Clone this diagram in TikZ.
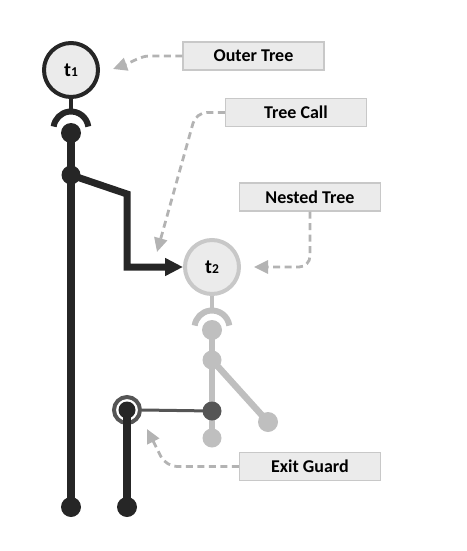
\documentclass[tikz,border=0pt]{standalone}
\usepackage{fontspec}
\setmainfont{Carlito}[BoldFont={Carlito Bold}]
\usetikzlibrary{arrows.meta}
\definecolor{dark}{HTML}{262626}
\definecolor{midgray}{HTML}{555555}
\definecolor{lightline}{HTML}{BFBFBF}
\definecolor{boxfill}{HTML}{EBEBEB}
\definecolor{boxline}{HTML}{C8C8C8}
\definecolor{dashcol}{HTML}{B3B3B3}
\tikzset{
  tnode/.style={circle,minimum size=54pt,inner sep=0pt,line width=4pt,fill=boxfill,font=\bfseries\fontsize{20}{22}\selectfont,text=black},
  labelbox/.style={rectangle,draw=boxline,fill=boxfill,line width=1.3pt,minimum width=141pt,minimum height=28pt,inner sep=0pt,font=\bfseries\fontsize{18}{20}\selectfont,text=black},
  darkdot/.style={circle,fill=dark,inner sep=0pt,minimum size=20pt},
  lightdot/.style={circle,fill=lightline,inner sep=0pt,minimum size=20pt},
  middot/.style={circle,fill=midgray,inner sep=0pt,minimum size=19pt},
  dashedarrow/.style={draw=dashcol,line width=2.8pt,dash pattern=on 7pt off 4.5pt,rounded corners=11pt,-{Triangle[length=14pt,width=13pt]}}
}
\newcommand{\tsub}[1]{t{\fontsize{13.5}{14}\selectfont #1}}
\begin{document}
\begin{tikzpicture}[x=1pt,y=-1pt]
\useasboundingbox (0,0) rectangle (466,551);
% ---------- outer tree (t1) ----------
\node[tnode,draw=dark] (t1) at (71,70) {\tsub{1}};
\coordinate (s1) at (71,129);
\draw[dark,line width=4pt] (t1.south) -- (71,112);
\draw[dark,line width=6pt] (s1) ++(-8:17.5) arc[start angle=-8,end angle=-172,radius=17.5];
\node[darkdot] (b1) at (71,133) {};
\node[darkdot,minimum size=19pt] (j1) at (71,175) {};
\node[darkdot] (e1) at (71,507) {};
\draw[dark,line width=7.5pt] (b1.center) -- (e1.center);
% ---------- nested tree (t2) ----------
\node[tnode,draw=boxline] (t2) at (212,267) {\tsub{2}};
\coordinate (s2) at (212,328);
\draw[lightline,line width=4pt] (t2.south) -- (212,311);
\draw[lightline,line width=6pt] (s2) ++(-8:17.5) arc[start angle=-8,end angle=-172,radius=17.5];
\node[lightdot] (b2) at (212,330) {};
\node[lightdot,minimum size=19pt] (j2) at (212,360) {};
\node[lightdot,minimum size=19pt] (lb) at (212,438) {};
\node[lightdot] (ld) at (268,422) {};
\draw[lightline,line width=6.5pt] (b2.center) -- (lb.center);
\draw[lightline,line width=6.5pt] (j2.center) -- (ld.center);
\node[middot] (dg) at (212,411) {};
% ---------- tree call branch ----------
\coordinate (c1) at (127,194);
\coordinate (c2) at (127,267);
\draw[dark,line width=7pt,-{Triangle[length=18pt,width=17pt]}] (j1.center) -- (c1) -- (c2) -- (t2.west);
% ---------- exit guard ----------
\node[circle,draw=midgray,fill=white,line width=4pt,minimum size=26pt,inner sep=0pt] (eg) at (127,410) {};
\draw[midgray,line width=3pt] (eg.east) -- (dg.center);
\node[darkdot] (e2) at (127,507) {};
\draw[dark,line width=7.5pt] (eg.center) -- (e2.center);
\node[darkdot,minimum size=17pt] (egc) at (127,410) {};
% ---------- labels ----------
\node[labelbox] (OT) at (253.5,56) {Outer Tree};
\node[labelbox] (TC) at (296,112.5) {Tree Call};
\node[labelbox] (NT) at (310,197) {Nested Tree};
\node[labelbox] (EG) at (310,466.5) {Exit Guard};
\coordinate (OTtip) at (113,69);
\coordinate (TCtip) at (157,252);
\coordinate (NTtip) at (254,267);
\coordinate (EGtip) at (147,429);
\draw[dashedarrow] (OT.west) -- (160,56) to[out=180,in=20] (OTtip);
\draw[dashedarrow] (TC.west) -- (196,112.5) -- (TCtip);
\draw[dashedarrow] (NT.south) -- (310,267) -- (NTtip);
\draw[dashedarrow] (EG.west) -- (166,466.5) -- (EGtip);
\end{tikzpicture}
\end{document}
